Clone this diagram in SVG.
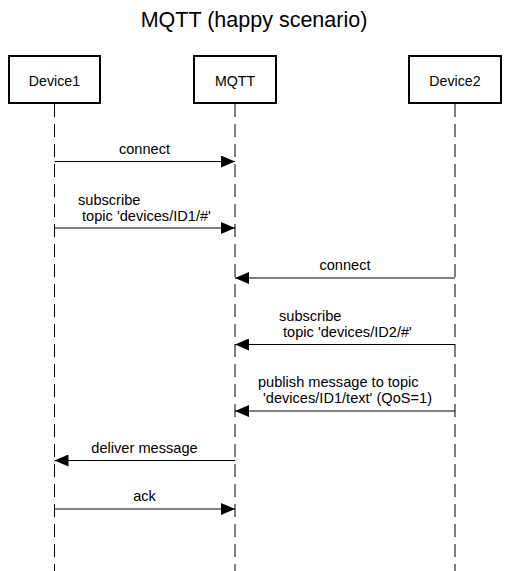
<svg xmlns="http://www.w3.org/2000/svg" width="509" height="571" viewBox="0 0 509 571">
  <style>
    text { font-family: "Liberation Sans", Arial, Helvetica, sans-serif; fill: #000; }
    .title { font-size: 21.5px; text-anchor: middle; }
    .node-label { font-size: 14.2px; text-anchor: middle; }
    .msg { font-size: 14.6px; }
    .msg-c { font-size: 14.6px; text-anchor: middle; }
    .box { fill: #fff; stroke: #000; stroke-width: 2; }
    .lifeline { stroke: #000; stroke-width: 1; stroke-dasharray: 13 7; fill: none; }
    .arrow { stroke: #000; stroke-width: 1; fill: none; marker-end: url(#head); }
  </style>
  <defs>
    <marker id="head" viewBox="0 0 14 12" refX="14" refY="6" markerWidth="14" markerHeight="12" markerUnits="userSpaceOnUse" orient="auto">
      <path d="M0,0 L14,6 L0,12 Z" fill="#000"/>
    </marker>
  </defs>
  <rect width="509" height="571" fill="#fff"/>
  <text class="title" x="254" y="26.5">MQTT (happy scenario)</text>

  <g id="lifelines">
    <line class="lifeline" x1="54.5" y1="104" x2="54.5" y2="571"/>
    <line class="lifeline" x1="235" y1="104" x2="235" y2="571"/>
    <line class="lifeline" x1="455" y1="104" x2="455" y2="571"/>
  </g>

  <g id="Device1">
    <rect class="box" x="9" y="56" width="91" height="47"/>
    <text class="node-label" x="54.5" y="86">Device1</text>
  </g>
  <g id="MQTT">
    <rect class="box" x="194" y="56" width="82" height="47"/>
    <text class="node-label" x="235" y="86">MQTT</text>
  </g>
  <g id="Device2">
    <rect class="box" x="409" y="56" width="92" height="47"/>
    <text class="node-label" x="455" y="86">Device2</text>
  </g>

  <g id="connectors">
    <line class="arrow" x1="54.5" y1="161.5" x2="235" y2="161.5"/>
    <text class="msg-c" x="144.5" y="153.5">connect</text>

    <line class="arrow" x1="54.5" y1="228" x2="235" y2="228"/>
    <text class="msg" x="78" y="204.5">subscribe</text>
    <text class="msg" x="82" y="220.5">topic 'devices/ID1/#'</text>

    <line class="arrow" x1="455" y1="278" x2="235" y2="278"/>
    <text class="msg-c" x="345" y="270">connect</text>

    <line class="arrow" x1="455" y1="344.5" x2="235" y2="344.5"/>
    <text class="msg" x="279" y="320.5">subscribe</text>
    <text class="msg" x="283" y="336.5">topic 'devices/ID2/#'</text>

    <line class="arrow" x1="455" y1="411" x2="235" y2="411"/>
    <text class="msg" x="258" y="387">publish message to topic</text>
    <text class="msg" x="263" y="403">'devices/ID1/text' (QoS=1)</text>

    <line class="arrow" x1="235" y1="460.5" x2="54.5" y2="460.5"/>
    <text class="msg-c" x="144.5" y="452.5">deliver message</text>

    <line class="arrow" x1="54.5" y1="509" x2="235" y2="509"/>
    <text class="msg-c" x="144.5" y="501">ack</text>
  </g>
</svg>
